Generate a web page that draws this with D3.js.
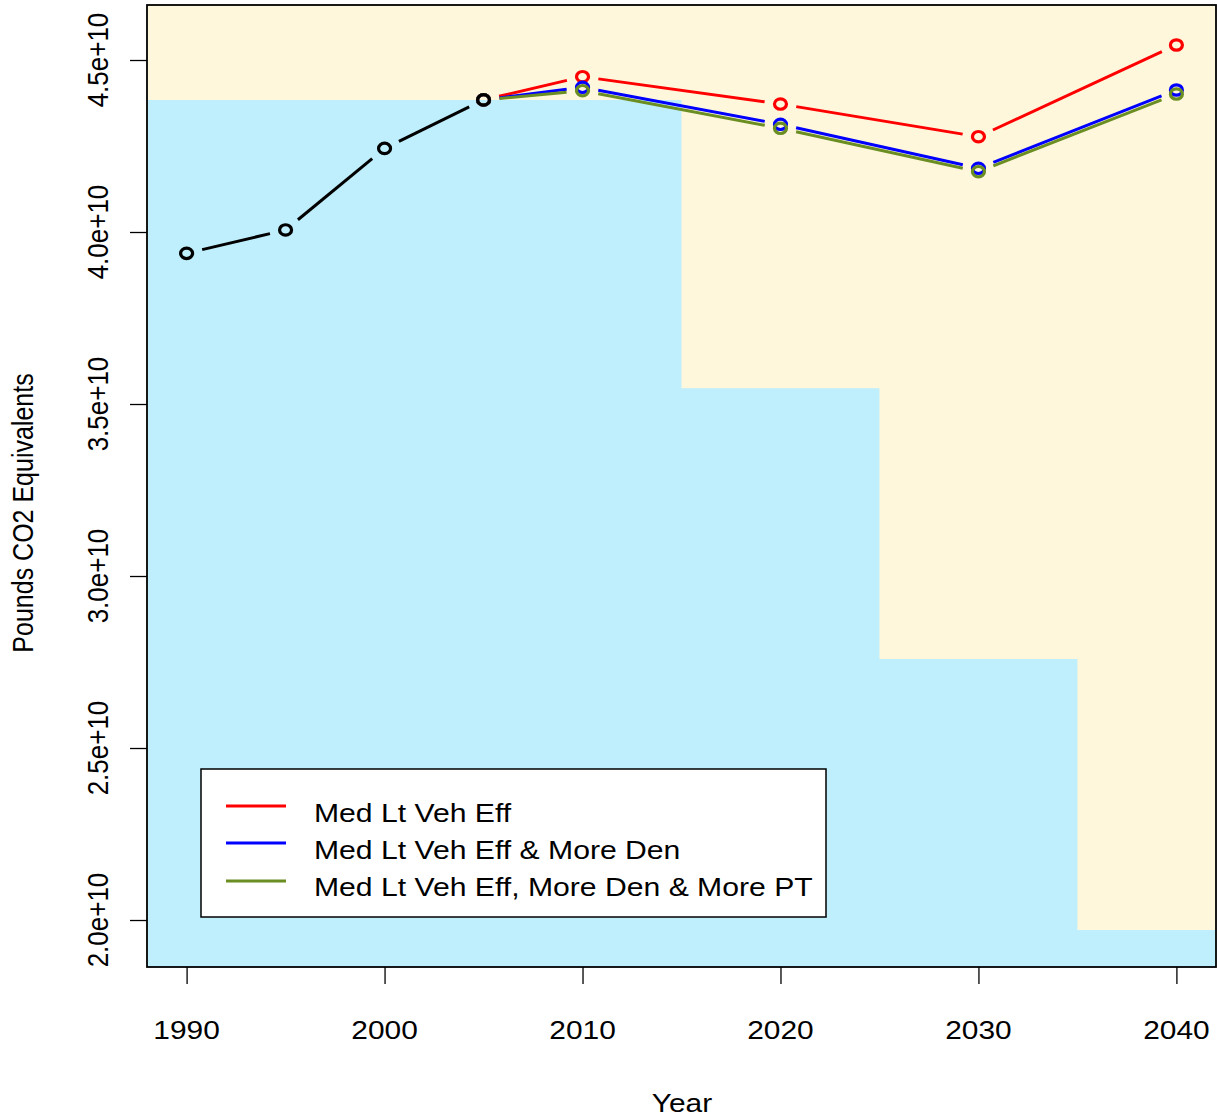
<!DOCTYPE html>
<html>
<head>
<meta charset="utf-8">
<script src="https://cdn.jsdelivr.net/npm/d3@7"></script>
<style>
  html, body { margin: 0; padding: 0; background: #ffffff; }
  svg { display: block; }
  text { font-family: "Liberation Sans", Arial, Helvetica, sans-serif; fill: #000; }
</style>
</head>
<body>
<svg id="chart" width="1217" height="1117"></svg>
<script>
// Historical emissions (pounds CO2 equivalents)
const histYears = [1990, 1995, 2000, 2005];
const histValues = [3.938e10, 4.006e10, 4.243e10, 4.384e10];

// Scenario projections, starting from the 2005 base year
const scenarioYears = [2005, 2010, 2020, 2030, 2040];
const medLtVehEff = [4.384e10, 4.4515e10, 4.372e10, 4.277e10, 4.5436e10];
const medLtVehEffDen = [4.384e10, 4.4206e10, 4.3131e10, 4.1852e10, 4.4128e10];
const medLtVehEffDenPT = [4.384e10, 4.4108e10, 4.3015e10, 4.1753e10, 4.4012e10];

// Reduction target levels (step shading)
const targetYears = [2010, 2020, 2030, 2040];
const targetValues = [4.384e10, 3.546e10, 2.759e10, 1.971e10];

// Axis ticks
const xTicks = [1990, 2000, 2010, 2020, 2030, 2040];
const yTicks = [2.0e10, 2.5e10, 3.0e10, 3.5e10, 4.0e10, 4.5e10];

const seriesNames = ["Med Lt Veh Eff", "Med Lt Veh Eff & More Den", "Med Lt Veh Eff, More Den & More PT"];
const seriesColors = ["#ff0000", "#0000ff", "#6b8e23"];

const svg = d3.select("#chart");
const plot = { left: 147, right: 1216, top: 5, bottom: 967 };
const SX = 1.15;           // horizontal text stretch
const FS = 26;             // base font size

const x = d3.scaleLinear().domain([1988, 2042]).range([plot.left, plot.right]);
const y = d3.scaleLinear().domain([1.8634e10, 4.6599e10]).range([plot.bottom, plot.top]);

// clip for plot region
svg.append("defs").append("clipPath").attr("id", "plotclip")
  .append("rect")
  .attr("x", plot.left).attr("y", plot.top)
  .attr("width", plot.right - plot.left).attr("height", plot.bottom - plot.top);

// background
svg.append("rect")
  .attr("x", plot.left).attr("y", plot.top)
  .attr("width", plot.right - plot.left).attr("height", plot.bottom - plot.top)
  .attr("fill", "#fff7dc");

// target step area
const stepPts = [[x.domain()[0], targetValues[0]]]
  .concat(targetYears.map((yr, i) => [yr, targetValues[i]]))
  .concat([[x.domain()[1], targetValues[targetValues.length - 1]]]);

const area = d3.area()
  .x(d => x(d[0]))
  .y0(plot.bottom)
  .y1(d => y(d[1]))
  .curve(d3.curveStep);

svg.append("path")
  .datum(stepPts)
  .attr("clip-path", "url(#plotclip)")
  .attr("d", area)
  .attr("fill", "#bfeefc");

// line-with-gaps renderer (points drawn as open circles, segments stop short of them)
const GAP = 16;
function drawSeries(years, values, color) {
  const g = svg.append("g").attr("clip-path", "url(#plotclip)");
  const pts = years.map((yr, i) => [x(yr), y(values[i])]);
  const segs = [];
  for (let i = 0; i < pts.length - 1; i++) {
    const [x0, y0] = pts[i], [x1, y1] = pts[i + 1];
    const len = Math.hypot(x1 - x0, y1 - y0);
    if (len > 2 * GAP) {
      const ux = (x1 - x0) / len, uy = (y1 - y0) / len;
      segs.push([x0 + ux * GAP, y0 + uy * GAP, x1 - ux * GAP, y1 - uy * GAP]);
    }
  }
  g.selectAll("line").data(segs).enter().append("line")
    .attr("x1", d => d[0]).attr("y1", d => d[1])
    .attr("x2", d => d[2]).attr("y2", d => d[3])
    .attr("stroke", color).attr("stroke-width", 3).attr("stroke-linecap", "butt");
  g.selectAll("ellipse").data(pts).enter().append("ellipse")
    .attr("cx", d => d[0]).attr("cy", d => d[1])
    .attr("rx", 6).attr("ry", 5.2)
    .attr("fill", "none").attr("stroke", color).attr("stroke-width", 3.2);
}

drawSeries(scenarioYears, medLtVehEff, seriesColors[0]);
drawSeries(scenarioYears, medLtVehEffDen, seriesColors[1]);
drawSeries(scenarioYears, medLtVehEffDenPT, seriesColors[2]);
drawSeries(histYears, histValues, "#000000");

// plot frame
svg.append("rect")
  .attr("x", plot.left).attr("y", plot.top)
  .attr("width", plot.right - plot.left).attr("height", plot.bottom - plot.top)
  .attr("fill", "none").attr("stroke", "#000").attr("stroke-width", 1.8);

// x axis
const xAxis = d3.axisBottom(x).tickValues(xTicks).tickSize(17).tickFormat("");
const gx = svg.append("g").attr("transform", `translate(0,${plot.bottom})`).call(xAxis);
gx.select(".domain").remove();
gx.selectAll(".tick line").attr("stroke", "#000").attr("stroke-width", 1.3);

svg.append("g").selectAll("text").data(xTicks).enter().append("text")
  .attr("transform", d => `translate(${x(d)},1039) scale(${SX},1)`)
  .attr("text-anchor", "middle")
  .attr("font-size", FS)
  .text(d => d);

// y axis
const yAxis = d3.axisLeft(y).tickValues(yTicks).tickSize(17).tickFormat("");
const gy = svg.append("g").attr("transform", `translate(${plot.left},0)`).call(yAxis);
gy.select(".domain").remove();
gy.selectAll(".tick line").attr("stroke", "#000").attr("stroke-width", 1.3);

const fmt = d3.format(".1e");
svg.append("g").selectAll("text").data(yTicks).enter().append("text")
  .attr("transform", d => `translate(108,${y(d)}) scale(${SX},1) rotate(-90)`)
  .attr("text-anchor", "middle")
  .attr("font-size", FS)
  .text(d => fmt(d));

// axis titles
svg.append("text")
  .attr("transform", `translate(682,1112) scale(${SX},1)`)
  .attr("text-anchor", "middle")
  .attr("font-size", FS)
  .text("Year");

svg.append("text")
  .attr("transform", `translate(33,513) scale(${SX},1) rotate(-90)`)
  .attr("text-anchor", "middle")
  .attr("font-size", 25)
  .text("Pounds CO2 Equivalents");

// legend
const legend = svg.append("g");
legend.append("rect")
  .attr("x", 201).attr("y", 769).attr("width", 625).attr("height", 148)
  .attr("fill", "#ffffff").attr("stroke", "#000").attr("stroke-width", 1.5);

const rows = seriesNames.map((name, i) => ({ name, color: seriesColors[i], i }));
const rowLineY = [806, 843, 881];
const rowTextY = [822, 859, 896];
legend.selectAll("line").data(rows).enter().append("line")
  .attr("x1", 226).attr("x2", 286)
  .attr("y1", d => rowLineY[d.i]).attr("y2", d => rowLineY[d.i])
  .attr("stroke", d => d.color).attr("stroke-width", 3);
legend.selectAll("text").data(rows).enter().append("text")
  .attr("transform", d => `translate(314,${rowTextY[d.i]}) scale(1.16,1)`)
  .attr("font-size", FS)
  .text(d => d.name);
</script>
</body>
</html>
